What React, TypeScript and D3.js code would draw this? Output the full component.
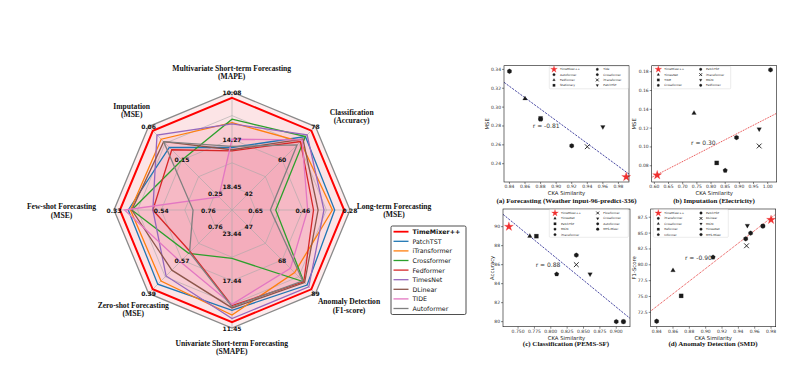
import React from "react";
import * as d3 from "d3";

// ---------------- Radar data ----------------
const radarAxisTitles = [
  ["Multivariate Short-term Forecasting", "(MAPE)"],
  ["Classification", "(Accuracy)"],
  ["Long-term Forecasting", "(MSE)"],
  ["Anomaly Detection", "(F1-score)"],
  ["Univariate Short-term Forecasting", "(SMAPE)"],
  ["Zero-shot Forecasting", "(MSE)"],
  ["Few-shot Forecasting", "(MSE)"],
  ["Imputation", "(MSE)"],
];
const radarTickLabels = [
  ["18.45", "14.27", "10.08"],
  ["42", "60", "78"],
  ["0.65", "0.46", "0.28"],
  ["47", "68", "89"],
  ["23.44", "17.44", "11.45"],
  ["0.76", "0.57", "0.39"],
  ["0.76", "0.54", "0.33"],
  ["0.25", "0.15", "0.06"],
];
const radarNames = ["TimeMixer++", "PatchTST", "iTransformer", "Crossformer", "Fedformer", "TimesNet", "DLinear", "TIDE", "Autoformer"];
const radarColors = ["#ff0000", "#1f77b4", "#ff7f0e", "#2ca02c", "#d62728", "#9467bd", "#8c564b", "#e377c2", "#7f7f7f"];
const timeMixerValues = [10.6, 75.8, 0.303, 86.4, 12.2, 0.413, 0.357, 0.072];
const patchTSTValues = [15.0, 72.6, 0.34, 83.75, 13.7, 0.441, 0.395, 0.119];
const iTransformerValues = [12.8, 69.9, 0.349, 75.9, 13.1, 0.459, 0.405, 0.096];
const crossformerValues = [12.49, 72.6, 0.571, 81.65, 20.29, 0.612, 0.411, 0.155];
const fedformerValues = [15.3, 69.9, 0.423, 81.65, 14.3, 0.621, 0.507, 0.126];
const timesNetValues = [12.9, 73.5, 0.382, 84.8, 12.65, 0.487, 0.507, 0.084];
const dLinearValues = [15.2, 71.25, 0.405, 82.2, 14.0, 0.519, 0.411, 0.103];
const tideValues = [14.27, 70.8, 0.446, 73.25, 14.45, 0.566, 0.378, 0.26];
const autoformerValues = [14.9, 68.1, 0.592, 81.1, 14.15, 0.617, 0.69, 0.103];
const radarValues = [timeMixerValues, patchTSTValues, iTransformerValues, crossformerValues, fedformerValues, timesNetValues, dLinearValues, tideValues, autoformerValues];

// ---------------- Scatter data ----------------
const aNames = ["TimeMixer++", "Autoformer", "Fedformer", "Stationary", "Tide", "Crossformer", "iTransformer", "PatchTST"];
const aX = [0.99, 0.84, 0.86, 0.88, 0.88, 0.92, 0.94, 0.96];
const aY = [0.226, 0.338, 0.309, 0.288, 0.287, 0.259, 0.258, 0.279];
const aFitX = [0.833, 0.9936];
const aFitY = [0.3263, 0.229];
const aXTicks = [0.84, 0.86, 0.88, 0.9, 0.92, 0.94, 0.96, 0.98];
const aYTicks = [0.24, 0.26, 0.28, 0.3, 0.32, 0.34];

const bNames = ["TimeMixer++", "TimesNet", "TIDE", "Crossformer", "PatchTST", "iTransformer", "MICN", "Fedformer"];
const bX = [0.61, 0.74, 0.82, 0.85, 0.89, 0.97, 0.97, 1.01];
const bY = [0.07, 0.136, 0.083, 0.075, 0.11, 0.101, 0.119, 0.182];
const bFitX = [0.5906, 1.0318];
const bFitY = [0.0676, 0.1358];
const bXTicks = [0.6, 0.65, 0.7, 0.75, 0.8, 0.85, 0.9, 0.95, 1.0];
const bYTicks = [0.08, 0.1, 0.12, 0.14, 0.16, 0.18];

const cNames = ["TimeMixer++", "TimesNet", "PatchTST", "MICN", "iTransformer", "Flowformer", "Crossformer", "Autoformer", "MTS-Mixer"];
const cX = [0.736, 0.768, 0.778, 0.809, 0.839, 0.839, 0.86, 0.9, 0.911];
const cY = [90.0, 89.0, 89.0, 85.0, 87.0, 86.0, 85.0, 80.0, 80.0];
const cFitX = [0.727, 0.921];
const cFitY = [91.3, 80.35];
const cXTicks = [0.75, 0.775, 0.8, 0.825, 0.85, 0.875, 0.9];
const cYTicks = [80, 82, 84, 86, 88, 90];

const dNames = ["TimeMixer++", "iTransformer", "Crossformer", "Reformer", "Informer", "PatchTST", "DLinear", "MICN", "TimesNet", "MTS-Mixer"];
const dX = [0.98, 0.84, 0.86, 0.87, 0.909, 0.949, 0.95, 0.951, 0.955, 0.97];
const dY = [87.1, 71.1, 79.1, 75.1, 81.2, 84.1, 83.0, 86.2, 85.0, 86.1];
const dFitX = [0.8327, 0.9857];
const dFitY = [72.71, 87.97];
const dXTicks = [0.84, 0.86, 0.88, 0.9, 0.92, 0.94, 0.96, 0.98];
const dYTicks = [72.5, 75.0, 77.5, 80.0, 82.5, 85.0, 87.5];

const SERIF = "'Liberation Serif', 'Times New Roman', serif";
const SANS = "'DejaVu Sans', sans-serif";

// ---------------- Radar ----------------
const CX = 232, CY = 210, R = 118;
const angle = (i: number) => (i * Math.PI) / 4;
const pt = (i: number, r: number): [number, number] => [CX + r * Math.sin(angle(i)), CY - r * Math.cos(angle(i))];
const axisScales = radarTickLabels.map((t) => d3.scaleLinear().domain([+t[0], +t[2]]).range([0.2 * R, R]));

const titlePos: [number, number][] = [
  [231.7, 68.5],
  [351.7, 112.3],
  [394, 206.5],
  [349, 301.7],
  [231.7, 343.3],
  [133.3, 305],
  [61.5, 206.7],
  [131.7, 106],
];

function Radar() {
  const ring = (f: number) => d3.range(8).map((i) => pt(i, f * R));
  const closed = d3.line().curve(d3.curveLinearClosed);
  return (
    <g>
      <path d={closed(ring(1))!} fill="#fdeced" stroke="none" />
      {radarValues.map((vals, s) => {
        const pts = vals.map((v, i) => pt(i, axisScales[i](v)));
        return <path key={"f" + s} d={closed(pts)!} fill="#f0507a" fillOpacity={0.052} stroke="none" />;
      })}
      {[0.2, 0.4, 0.6, 0.8].map((f) => (
        <path key={f} d={closed(ring(f))!} fill="none" stroke="#a8a8a8" strokeWidth={0.6} />
      ))}
      {d3.range(8).map((i) => {
        const [x, y] = pt(i, R);
        return <line key={i} x1={CX} y1={CY} x2={x} y2={y} stroke="#a8a8a8" strokeWidth={0.6} />;
      })}
      <path d={closed(ring(1))!} fill="none" stroke="#8a8a8a" strokeWidth={1.3} />
      {radarValues.map((vals, s) => {
        const pts = vals.map((v, i) => pt(i, axisScales[i](v)));
        return (
          <path key={"l" + s} d={closed(pts)!} fill="none" stroke={radarColors[s]} strokeWidth={s === 0 ? 2 : 1.3} strokeLinejoin="miter" />
        );
      })}
      {radarTickLabels.map((labs, i) =>
        labs.map((lab, k) => {
          const [x, y] = pt(i, [0.2, 0.6, 1.0][k] * R);
          return (
            <text key={i + "-" + k} x={x} y={y} fontFamily={SANS} fontWeight="bold" fontSize={6} textAnchor="middle" dominantBaseline="central" fill="#111">
              {lab}
            </text>
          );
        })
      )}
      {radarAxisTitles.map((lines, i) => (
        <g key={"t" + i}>
          {lines.map((ln, k) => (
            <text key={k} x={titlePos[i][0]} y={titlePos[i][1] + k * 8.3} fontFamily={SERIF} fontWeight="bold" fontSize={7.6} textAnchor="middle" dominantBaseline="central" fill="#111">
              {ln}
            </text>
          ))}
        </g>
      ))}
      <g>
        <rect x={391} y={226} width={75} height={88.5} rx={1.5} fill="#fff" stroke="#222" strokeWidth={0.8} />
        {radarNames.map((n, s) => {
          const y = 231.7 + s * 9.6;
          return (
            <g key={n}>
              <line x1={393.5} x2={408.5} y1={y} y2={y} stroke={radarColors[s]} strokeWidth={s === 0 ? 1.8 : 1.3} />
              <text x={412.5} y={y} fontFamily={SANS} fontSize={6.3} fontWeight={s === 0 ? "bold" : "normal"} dominantBaseline="central" fill="#111">
                {n}
              </text>
            </g>
          );
        })}
      </g>
    </g>
  );
}

// ---------------- Markers ----------------
const poly = (n: number, r: number, rot: number) => {
  const p = d3.range(n).map((k) => {
    const a = rot + (2 * Math.PI * k) / n;
    return [r * Math.sin(a), -r * Math.cos(a)] as [number, number];
  });
  return d3.line()(p) + "Z";
};
function markerPath(shape: string, r: number): string {
  switch (shape) {
    case "star":
      return d3.symbol(d3.symbolStar, (r * r) / 0.8908130915292852)()!;
    case "circle":
      return d3.symbol(d3.symbolCircle, Math.PI * r * r)()!;
    case "square":
      return `M${-r * 0.85},${-r * 0.85}h${1.7 * r}v${1.7 * r}h${-1.7 * r}Z`;
    case "triangle":
      return poly(3, r * 1.1, 0);
    case "triDown":
      return poly(3, r * 1.1, Math.PI);
    case "pentagon":
      return poly(5, r, 0);
    case "hexagon":
      return poly(6, r, 0);
    case "x":
      return `M${-r},${-r}L${r},${r}M${-r},${r}L${r},${-r}`;
    default:
      return d3.symbol(d3.symbolCircle, Math.PI * r * r)()!;
  }
}
function Marker({ shape, x, y, r, color }: any) {
  const isX = shape === "x";
  return (
    <path
      d={markerPath(shape, r)}
      transform={`translate(${x},${y})`}
      fill={isX ? "none" : color}
      stroke={color}
      strokeWidth={isX ? 0.9 : 0.2}
    />
  );
}

const aShapes = ["star", "hexagon", "triangle", "square", "pentagon", "hexagon", "x", "triDown"];
const bShapes = ["star", "triangle", "square", "pentagon", "hexagon", "x", "triDown", "hexagon"];
const cShapes = ["star", "triangle", "square", "pentagon", "hexagon", "x", "triDown", "hexagon", "circle"];
const dShapes = ["star", "hexagon", "triangle", "square", "pentagon", "hexagon", "x", "triDown", "hexagon", "circle"];

function Panel(p: any) {
  const [bx, by, bw, bh] = p.box;
  const xs = d3.scaleLinear().domain(p.xDomain).range([bx, bx + bw]);
  const ys = d3.scaleLinear().domain(p.yDomain).range([by + bh, by]);
  const [lx, ly, lw, lh] = p.legendBox;
  return (
    <g>
      <defs>
        <clipPath id={"clip" + p.id}>
          <rect x={bx} y={by} width={bw} height={bh} />
        </clipPath>
      </defs>
      <rect x={bx} y={by} width={bw} height={bh} fill="#fff" />
      <line
        x1={xs(p.fitX[0])} y1={ys(p.fitY[0])} x2={xs(p.fitX[1])} y2={ys(p.fitY[1])}
        stroke={p.fitColor} strokeWidth={0.8} strokeDasharray={p.fitDash} clipPath={`url(#clip${p.id})`}
      />
      {p.names.map((n: string, i: number) =>
        i === 0 ? null : <Marker key={n + i} shape={p.shapes[i]} x={xs(p.xv[i])} y={ys(p.yv[i])} r={2.4} color="#1a1a1a" />
      )}
      <Marker shape="star" x={xs(p.xv[0])} y={ys(p.yv[0])} r={4.8} color="#f03030" />
      <text x={xs(p.rPos[0])} y={ys(p.rPos[1])} fontFamily={SANS} fontSize={6} fill="#333" dominantBaseline="central">
        {p.rText}
      </text>
      <rect x={bx} y={by} width={bw} height={bh} fill="none" stroke="#111" strokeWidth={0.6} />
      {p.xTicks.map((t: number) => (
        <g key={"x" + t}>
          <line x1={xs(t)} x2={xs(t)} y1={by + bh} y2={by + bh + 2} stroke="#111" strokeWidth={0.5} />
          <text x={xs(t)} y={by + bh + 4.8} fontFamily={SANS} fontSize={4.5} textAnchor="middle" dominantBaseline="central" fill="#333">
            {t.toFixed(p.xDec)}
          </text>
        </g>
      ))}
      {p.yTicks.map((t: number) => (
        <g key={"y" + t}>
          <line x1={bx - 2} x2={bx} y1={ys(t)} y2={ys(t)} stroke="#111" strokeWidth={0.5} />
          <text x={bx - 3} y={ys(t)} fontFamily={SANS} fontSize={4.5} textAnchor="end" dominantBaseline="central" fill="#333">
            {t.toFixed(p.yDec)}
          </text>
        </g>
      ))}
      <text x={bx + bw / 2} y={by + bh + 11} fontFamily={SANS} fontSize={5.3} textAnchor="middle" dominantBaseline="central" fill="#222">
        CKA Similarity
      </text>
      <text
        transform={`translate(${p.yLabelX},${by + bh / 2}) rotate(-90)`}
        fontFamily={SANS} fontSize={5.3} textAnchor="middle" dominantBaseline="central" fill="#222"
      >
        {p.yLabel}
      </text>
      <text x={p.titlePos[0]} y={p.titlePos[1]} fontFamily={SERIF} fontWeight="bold" fontSize={7} textAnchor="middle" dominantBaseline="central" fill="#111">
        {p.title}
      </text>
      <rect x={lx} y={ly} width={lw} height={lh} rx={1} fill="#fff" fillOpacity={0.9} stroke="#cfcfcf" strokeWidth={0.4} />
      {p.names.map((n: string, i: number) => {
        const col = Math.floor(i / p.rows);
        const row = i % p.rows;
        const mx = lx + (col === 0 ? p.legCols[0] : p.legCols[2]);
        const tx = lx + (col === 0 ? p.legCols[1] : p.legCols[3]);
        const y = ly + p.legTop + row * p.legStep;
        return (
          <g key={"l" + n + i}>
            {i === 0 ? (
              <Marker shape="star" x={mx} y={y} r={3.6} color="#f03030" />
            ) : (
              <Marker shape={p.shapes[i]} x={mx} y={y} r={1.4} color="#1a1a1a" />
            )}
            <text x={tx} y={y} fontFamily={SANS} fontSize={2.9} dominantBaseline="central" fill="#222">
              {n}
            </text>
          </g>
        );
      })}
    </g>
  );
}

const panels = [
  {
    id: "a", box: [504, 65.7, 125, 116.3], xDomain: [0.833, 0.9936], yDomain: [0.2206, 0.3439],
    xTicks: aXTicks, yTicks: aYTicks, xDec: 2, yDec: 2, names: aNames, xv: aX, yv: aY, shapes: aShapes,
    fitX: aFitX, fitY: aFitY, fitColor: "#1c1c8c", fitDash: "2.2,1.2", rText: "r = -0.81", rPos: [0.87, 0.2805],
    yLabel: "MSE", yLabelX: 487.3, title: "(a) Forecasting (Weather input-96-predict-336)", titlePos: [566.5, 200.7],
    legendBox: [549.3, 66.3, 79, 22.5], rows: 4, legCols: [4.7, 10.7, 48, 54], legTop: 3, legStep: 5.33,
  },
  {
    id: "b", box: [651.7, 65.7, 125, 116.3], xDomain: [0.5906, 1.0318], yDomain: [0.0627, 0.1864],
    xTicks: bXTicks, yTicks: bYTicks, xDec: 2, yDec: 2, names: bNames, xv: bX, yv: bY, shapes: bShapes,
    fitX: bFitX, fitY: bFitY, fitColor: "#e01010", fitDash: "1,0.9", rText: "r = 0.30", rPos: [0.7294, 0.105],
    yLabel: "MSE", yLabelX: 634, title: "(b) Imputation (Electricity)", titlePos: [714, 200.7],
    legendBox: [653.3, 66.3, 77.4, 22.5], rows: 4, legCols: [5, 11, 47.4, 52.7], legTop: 3, legStep: 5.33,
  },
  {
    id: "c", box: [503, 209, 127, 117.7], xDomain: [0.727, 0.921], yDomain: [79.47, 91.86],
    xTicks: cXTicks, yTicks: cYTicks, xDec: 3, yDec: 0, names: cNames, xv: cX, yv: cY, shapes: cShapes,
    fitX: cFitX, fitY: cFitY, fitColor: "#1c1c8c", fitDash: "2.2,1.2", rText: "r = 0.88", rPos: [0.777, 86.04],
    yLabel: "Accuracy", yLabelX: 491.7, title: "(c) Classification (PEMS-SF)", titlePos: [566, 344.3],
    legendBox: [549.3, 209.6, 79, 27.7], rows: 5, legCols: [5.7, 11.7, 48.4, 54], legTop: 3.4, legStep: 5.4,
  },
  {
    id: "d", box: [650.7, 209, 125, 117.7], xDomain: [0.8327, 0.9857], yDomain: [70.24, 88.8],
    xTicks: dXTicks, yTicks: dYTicks, xDec: 2, yDec: 1, names: dNames, xv: dX, yv: dY, shapes: dShapes,
    fitX: dFitX, fitY: dFitY, fitColor: "#e01010", fitDash: "1,0.9", rText: "r = -0.90", rPos: [0.8747, 81.13],
    yLabel: "F1-Score", yLabelX: 634, title: "(d) Anomaly Detection (SMD)", titlePos: [713, 344.3],
    legendBox: [653.3, 209.6, 75, 27.7], rows: 5, legCols: [5, 11, 47.7, 52.7], legTop: 3.4, legStep: 5.4,
  },
];

export default function App() {
  return (
    <svg width={800} height={375} viewBox="0 0 800 375" style={{ position: "absolute", left: 0, top: 0, background: "#fff" }}>
      <rect x={0} y={0} width={800} height={375} fill="#fff" />
      <Radar />
      {panels.map((p) => (
        <Panel key={p.id} {...p} />
      ))}
    </svg>
  );
}
